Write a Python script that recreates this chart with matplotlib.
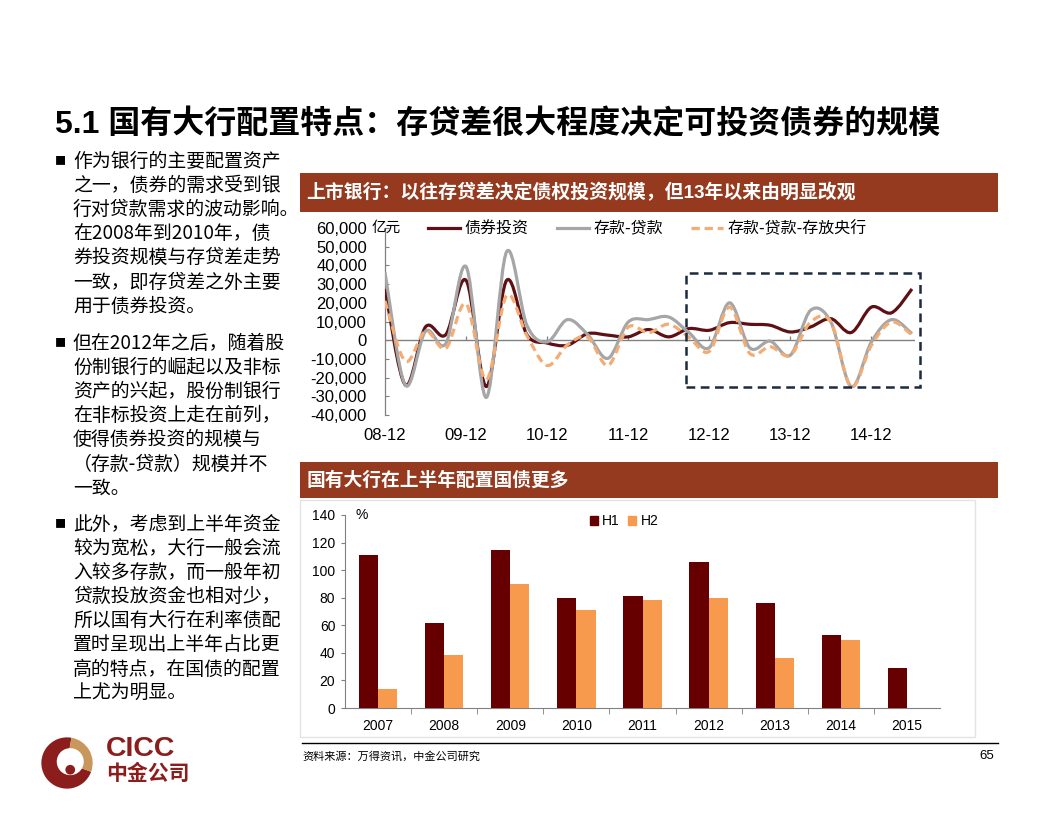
import numpy as np
import matplotlib
matplotlib.use("Agg")
import matplotlib.pyplot as plt
from matplotlib.path import Path
from matplotlib.patches import PathPatch, Rectangle, Wedge, Circle, Patch
from matplotlib.lines import Line2D
from matplotlib.ticker import FuncFormatter

plt.rcParams['font.family'] = ['Liberation Sans', 'Noto Sans CJK SC', 'DejaVu Sans']

# ---------------- data ----------------
quarter_ticks = ['08-12', '09-12', '10-12', '11-12', '12-12', '13-12', '14-12']
# quarterly values (亿元), 08-12 ... 15-06
bond_invest = [27400, -23900, 7100, 3000, 32000, -24800, 32000, 3000, -1500,
               -2700, 3500, 2700, 1800, 5700, 1800, 6200, 5300,
               9400, 8500, 8000, 4400, 7100, 11500, 4100, 17700, 14700, 27400]
dep_minus_loan = [36300, -24000, 4800, -1800, 39300, -30600, 47300, 8000, -900,
                  11000, 3000, -9700, 9700, 11000, 12400, 4000, -4000,
                  20000, -4100, -500, -8000, 16000, 9700, -24800, -900, 11000, 3500]
dep_minus_loan_cb = [21000, -11200, 4800, -4400, 19500, -21200, 23900, 2500, -13500,
                     -2500, 1500, -13500, 7000, 4000, 8500, 1500, -6000,
                     17700, -7100, -3500, -8000, 9700, 9700, -24800, -2700, 9700, 2700]
line_names = ['债券投资', '存款-贷款', '存款-贷款-存放央行']

years = ['2007', '2008', '2009', '2010', '2011', '2012', '2013', '2014', '2015']
h1 = [111, 62, 114.5, 79.5, 81, 106, 76, 53, 29]
h2 = [13.5, 38.5, 90, 71, 78.5, 79.5, 36.5, 49, np.nan]

bullets = [
    ['作为银行的主要配置资产', '之一，债券的需求受到银', '行对贷款需求的波动影响。',
     '在2008年到2010年，债', '券投资规模与存贷差走势', '一致，即存贷差之外主要', '用于债券投资。'],
    ['但在2012年之后，随着股', '份制银行的崛起以及非标', '资产的兴起，股份制银行',
     '在非标投资上走在前列，', '使得债券投资的规模与', '（存款-贷款）规模并不', '一致。'],
    ['此外，考虑到上半年资金', '较为宽松，大行一般会流', '入较多存款，而一般年初',
     '贷款投放资金也相对少，', '所以国有大行在利率债配', '置时呈现出上半年占比更',
     '高的特点，在国债的配置', '上尤为明显。'],
]

W, H = 1056, 816
fig = plt.figure(figsize=(W / 100, H / 100), dpi=100)
fig.patch.set_facecolor('white')


def fx(x):
    return x / W


def fy(y):
    return 1 - y / H


def axes_px(l, t, r, b):
    return fig.add_axes([fx(l), fy(b), (r - l) / W, (b - t) / H])


def smooth_path(xs, ys):
    pts = np.column_stack([xs, ys]).astype(float)
    n = len(pts)
    verts = [pts[0]]
    codes = [Path.MOVETO]
    for i in range(n - 1):
        p0 = pts[i - 1] if i > 0 else pts[i]
        p1 = pts[i]
        p2 = pts[i + 1]
        p3 = pts[i + 2] if i + 2 < n else pts[i + 1]
        verts += [p1 + (p2 - p0) / 6.0, p2 - (p3 - p1) / 6.0, p2]
        codes += [Path.CURVE4] * 3
    return Path(verts, codes)


# ---------------- title ----------------
fig.text(fx(55), fy(125), '5.1 国有大行配置特点：存贷差很大程度决定可投资债券的规模',
         fontsize=23, fontweight='bold', va='center', ha='left', color='black')

# ---------------- left text ----------------
starts = [161, 343, 524]
for blk, y0 in zip(bullets, starts):
    fig.text(fx(55), fy(y0), '■', fontsize=8, va='center', ha='left',
             family=['Noto Sans CJK SC'])
    for k, line in enumerate(blk):
        fig.text(fx(73), fy(y0 + k * 24.2), line, fontsize=13.6, va='center', ha='left',
                 family=['Noto Sans CJK SC'])

# ---------------- header bars ----------------
bar_col = '#963A1F'
fig.add_artist(Rectangle((fx(300), fy(212)), (998 - 300) / W, 39 / H,
                         transform=fig.transFigure, facecolor=bar_col, edgecolor='none'))
fig.text(fx(306), fy(192.5), '上市银行：以往存贷差决定债权投资规模，但13年以来由明显改观',
         fontsize=13.6, fontweight='bold', color='white', va='center', ha='left')
fig.add_artist(Rectangle((fx(300), fy(498)), (998 - 300) / W, 36 / H,
                         transform=fig.transFigure, facecolor=bar_col, edgecolor='none'))
fig.text(fx(307), fy(480), '国有大行在上半年配置国债更多',
         fontsize=13.5, fontweight='bold', color='white', va='center', ha='left')

# ---------------- top line chart ----------------
ax = axes_px(385, 228, 915, 415)
n_q = len(bond_invest)
xq = np.arange(n_q)
ax.set_xlim(0, 26.15)
ax.set_ylim(-40000, 60000)

c_bond = '#5E1014'
c_grey = '#A6A6A6'
c_orange = '#F2AC74'
series = [(bond_invest, c_bond, '-'), (dep_minus_loan, c_grey, '-'),
          (dep_minus_loan_cb, c_orange, (0, (2.6, 1.5)))]
for vals, col, ls in series:
    pp = PathPatch(smooth_path(xq, vals), facecolor='none', edgecolor=col, lw=2.3,
                   linestyle=ls, capstyle='butt', joinstyle='round', zorder=3)
    ax.add_patch(pp)

for s in ['top', 'right', 'bottom']:
    ax.spines[s].set_visible(False)
ax.spines['left'].set_color('#808080')
ax.spines['left'].set_linewidth(0.9)
ax.axhline(0, color='#808080', lw=1.0, zorder=2)
tick_pos = np.arange(0, n_q, 4)[:len(quarter_ticks)]
ax.vlines(tick_pos[1:], 0, 2500, color='#808080', lw=0.9, zorder=2)
ax.set_xticks(tick_pos)
ax.set_xticklabels(quarter_ticks)
ax.tick_params(axis='x', length=0, pad=9, labelsize=12)
ax.set_yticks(np.arange(-40000, 60001, 10000))
ax.yaxis.set_major_formatter(FuncFormatter(lambda v, p: f'{int(v):,}'))
ax.tick_params(axis='y', direction='in', length=3, color='#808080', labelsize=12, pad=13)
ax.annotate('亿元', xy=(0, 60000), xytext=(-10, 0), textcoords='offset points',
            va='center', ha='left', fontsize=10.5, annotation_clip=False)

# dashed box
box = Rectangle((14.85, -25000), 26.4 - 14.85, 61000, facecolor='none',
                edgecolor='#1C2B3F', lw=1.8, linestyle=(0, (3.5, 2.2)), clip_on=False, zorder=4)
ax.add_patch(box)

handles = [Line2D([], [], color=c_bond, lw=2.3),
           Line2D([], [], color=c_grey, lw=2.3),
           Line2D([], [], color=c_orange, lw=2.3, linestyle=(0, (2.6, 1.5)))]
fig.legend(handles, line_names, loc='center left', bbox_to_anchor=(fx(428), fy(229)),
           bbox_transform=fig.transFigure, ncol=3, frameon=False,
           handlelength=2.0, handletextpad=0.3, columnspacing=1.75, borderpad=0,
           borderaxespad=0, prop={'family': ['Noto Sans CJK SC'], 'size': 11.5})

# ---------------- bottom bar chart ----------------
fig.add_artist(Rectangle((fx(300), fy(737)), (975 - 300) / W, (737 - 500) / H,
                         transform=fig.transFigure, facecolor='none', edgecolor='#E3E3E3', lw=1))
bx = axes_px(345, 515, 940, 708)
xi = np.arange(len(years))
bw = 0.29
c_h1 = '#660000'
c_h2 = '#F79A4E'
bx.bar(xi - bw / 2, h1, width=bw, color=c_h1, label='H1', zorder=3)
bx.bar(xi + bw / 2, h2, width=bw, color=c_h2, label='H2', zorder=3)
bx.set_xlim(-0.5, len(years) - 0.5)
bx.set_ylim(0, 140)
bx.set_yticks(np.arange(0, 141, 20))
bx.set_xticks(xi)
bx.set_xticklabels(years)
bx.set_xticks(np.arange(0.5, len(years) - 0.5, 1), minor=True)
bx.tick_params(axis='x', which='major', length=0, pad=8, labelsize=10)
bx.tick_params(axis='x', which='minor', length=4, direction='out', color='#808080')
bx.tick_params(axis='y', length=3, direction='out', color='#808080', labelsize=10, pad=4)
for s in ['top', 'right']:
    bx.spines[s].set_visible(False)
bx.spines['left'].set_color('#808080')
bx.spines['bottom'].set_color('#808080')
bx.text(0.017, 1.0, '%', transform=bx.transAxes, fontsize=10, va='center', ha='left')
bx.legend(handles=[Patch(color=c_h1), Patch(color=c_h2)], labels=['H1', 'H2'],
          loc='center', bbox_to_anchor=(fx(624), fy(521)), bbox_transform=fig.transFigure,
          ncol=2, frameon=False, fontsize=10, handlelength=0.6, handleheight=0.6,
          handletextpad=0.3, columnspacing=0.6, borderpad=0)

# ---------------- footer ----------------
fig.add_artist(Line2D([fx(302), fx(998)], [fy(743), fy(743)], transform=fig.transFigure,
                      color='black', lw=1))
fig.text(fx(302), fy(756), '资料来源：万得资讯，中金公司研究', fontsize=8, va='center', ha='left',
         family=['Noto Sans CJK SC'])
fig.text(fx(994), fy(756), '65', fontsize=9.5, va='center', ha='right')

# logo
logo = fig.add_axes([fx(40), fy(790), 54 / W, 54 / H])
logo.set_xlim(-1, 1)
logo.set_ylim(-1, 1)
logo.set_aspect('equal')
logo.axis('off')
red = '#8C1D1D'
tan = '#C9965C'
logo.add_patch(Wedge((0, 0), 0.95, 80, 340, facecolor=red, edgecolor='none'))
logo.add_patch(Wedge((0, 0), 0.95, -20, 80, facecolor=tan, edgecolor='none'))
logo.add_patch(Circle((0.12, 0.05), 0.5, facecolor='white', edgecolor='none'))
logo.add_patch(Circle((0.12, -0.25), 0.18, facecolor=red, edgecolor='none'))
fig.text(fx(106), fy(749), 'CICC', fontsize=20.5, fontweight='bold', color=red, va='center', ha='left')
fig.text(fx(106), fy(773), '中金公司', fontsize=15, fontweight='bold', color=red, va='center', ha='left',
         family=['Noto Sans CJK SC'])

fig.savefig('out.png', dpi=100, facecolor='white')
